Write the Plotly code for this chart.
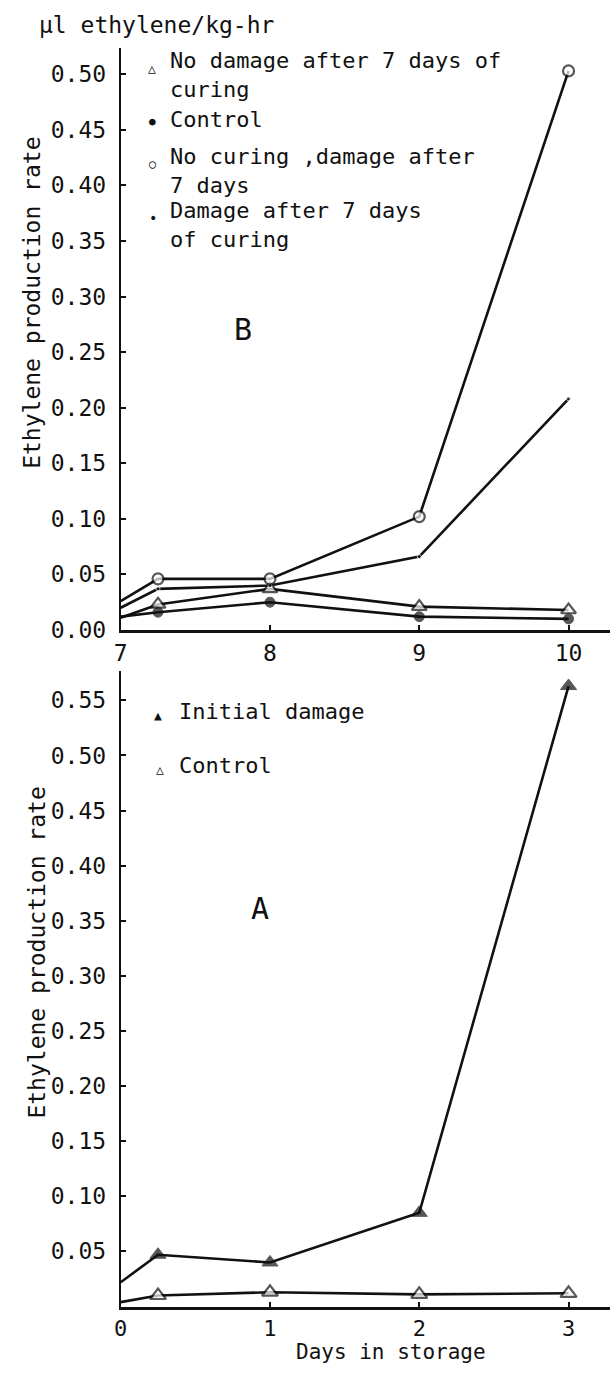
import plotly.graph_objects as go

# ---------------- data ----------------
# Panel B (top): days 7-10 in storage
days_b = [7, 7.25, 8, 9, 10]
no_damage_cured = [0.011, 0.023, 0.037, 0.021, 0.018]
control_b = [0.012, 0.016, 0.025, 0.012, 0.010]
no_curing_damage = [0.026, 0.046, 0.046, 0.102, 0.503]
damage_after_curing = [0.020, 0.037, 0.040, 0.066, 0.208]

# Panel A (bottom): days 0-3 in storage
days_a = [0, 0.25, 1, 2, 3]
initial_damage = [0.022, 0.047, 0.040, 0.085, 0.563]
control_a = [0.004, 0.010, 0.013, 0.011, 0.012]

# tick labels
xticks_b = [7, 8, 9, 10]
xticks_a = [0, 1, 2, 3]
yticks_b = [0.00, 0.05, 0.10, 0.15, 0.20, 0.25, 0.30, 0.35, 0.40, 0.45, 0.50]
yticks_a = [0.05, 0.10, 0.15, 0.20, 0.25, 0.30, 0.35, 0.40, 0.45, 0.50, 0.55]

INK = "#111111"
FONT = "DejaVu Sans Mono"
W, H = 614, 1376


def px(x):
    return x / W


def py(y):
    return 1 - y / H


def msize(n, s):
    return [0] + [s] * (n - 1)


fig = go.Figure()

line = dict(color=INK, width=2.6)

# ---- Panel B traces
fig.add_trace(go.Scatter(x=days_b, y=no_damage_cured, mode="lines+markers", line=line,
                         marker=dict(symbol="triangle-up", size=msize(5, 13), color="white",
                                     line=dict(color=INK, width=2.2)),
                         xaxis="x", yaxis="y", showlegend=False))
fig.add_trace(go.Scatter(x=days_b, y=control_b, mode="lines+markers", line=line,
                         marker=dict(symbol="circle", size=msize(5, 10), color=INK,
                                     line=dict(color=INK, width=1)),
                         xaxis="x", yaxis="y", showlegend=False))
fig.add_trace(go.Scatter(x=days_b, y=damage_after_curing, mode="lines+markers", line=line,
                         marker=dict(symbol="circle", size=msize(5, 4), color=INK),
                         xaxis="x", yaxis="y", showlegend=False))
fig.add_trace(go.Scatter(x=days_b, y=no_curing_damage, mode="lines+markers", line=line,
                         marker=dict(symbol="circle", size=msize(5, 11), color="white",
                                     line=dict(color=INK, width=2.2)),
                         xaxis="x", yaxis="y", showlegend=False))

# ---- Panel A traces
fig.add_trace(go.Scatter(x=days_a, y=control_a, mode="lines+markers", line=line,
                         marker=dict(symbol="triangle-up", size=msize(5, 14), color="white",
                                     line=dict(color=INK, width=2.2)),
                         xaxis="x2", yaxis="y2", showlegend=False))
fig.add_trace(go.Scatter(x=days_a, y=initial_damage, mode="lines+markers", line=line,
                         marker=dict(symbol="triangle-up", size=msize(5, 14), color=INK,
                                     line=dict(color=INK, width=1)),
                         xaxis="x2", yaxis="y2", showlegend=False))

axis_common = dict(showline=True, linecolor=INK, showgrid=False, zeroline=False,
                   ticks="inside", ticklen=5, tickwidth=1.5, tickcolor=INK,
                   tickfont=dict(family=FONT, size=23, color=INK))

fig.update_layout(
    width=W, height=H,
    margin=dict(l=0, r=0, t=0, b=0),
    paper_bgcolor="white", plot_bgcolor="white",
    showlegend=False,
    xaxis=dict(axis_common, domain=[px(115), px(610)], range=[7, 10.278],
               tickvals=xticks_b, linewidth=3, anchor="y", ticklabelstandoff=0),
    yaxis=dict(axis_common, domain=[py(636), py(48)], range=[0, 0.524],
               tickvals=yticks_b, tickformat=".2f", linewidth=2, anchor="x",
               ticklabelstandoff=8),
    xaxis2=dict(axis_common, domain=[px(115), px(610)], range=[0, 3.278],
                tickvals=xticks_a, linewidth=3, anchor="y2", ticklabelstandoff=0,
                tickfont=dict(family=FONT, size=22, color=INK)),
    yaxis2=dict(axis_common, domain=[py(1319), py(677)], range=[0, 0.577],
                tickvals=yticks_a, tickformat=".2f", linewidth=2, anchor="x2",
                ticklabelstandoff=8),
)

ann = []


def text(x, y, s, size=23, xanchor="left", angle=0):
    ann.append(dict(x=px(x), y=py(y), xref="paper", yref="paper", text=s,
                    showarrow=False, xanchor=xanchor, yanchor="middle", align="left",
                    textangle=angle, font=dict(family=FONT, size=size, color=INK)))


# unit label
text(30, 25, "µl ethylene/kg-hr", size=23)

# y-axis titles
text(25, 306, "Ethylene production rate", size=23, xanchor="center", angle=-90)
text(30, 962, "Ethylene production rate", size=23, xanchor="center", angle=-90)

# x-axis title
text(388, 1365, "Days in storage", size=21, xanchor="center")

# panel letters
text(239, 333, "B", size=30, xanchor="center")
text(256, 917, "A", size=30, xanchor="center")

# Panel B legend
text(147, 69, "△", size=13, xanchor="center")
text(163, 76, "No damage after 7 days of<br>curing", size=22)
text(147, 123, "●", size=11, xanchor="center")
text(163, 121, "Control", size=22)
text(147, 166, "○", size=12, xanchor="center")
text(163, 173, "No curing ,damage after<br>7 days", size=22)
text(148, 220, "•", size=14, xanchor="center")
text(163, 227, "Damage after 7 days<br>of curing", size=22)

# Panel A legend
text(153, 722, "▲", size=13, xanchor="center")
text(172, 718, "Initial damage", size=22)
text(155, 777, "△", size=13, xanchor="center")
text(172, 773, "Control", size=22)

fig.update_layout(annotations=ann)

fig.write_html("out.html", config={"displayModeBar": False},
               post_script="document.body.style.margin='0';")
